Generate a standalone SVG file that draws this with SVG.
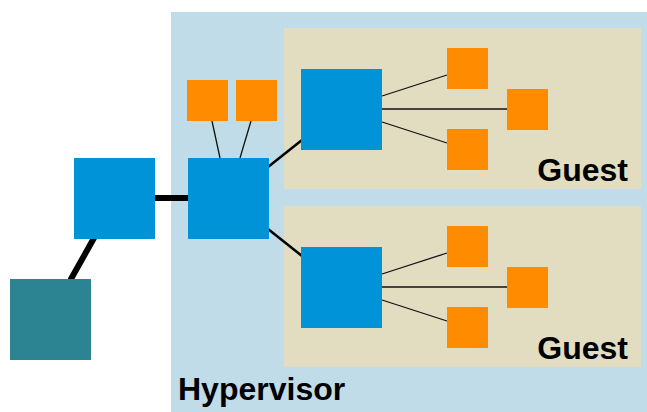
<svg xmlns="http://www.w3.org/2000/svg" width="647" height="412" viewBox="0 0 647 412">
<style>
.hv{fill:#c0dce8}
.guest{fill:#e2dcc0}
.blue{fill:#0093d8}
.orange{fill:#ff8c00}
.teal{fill:#2c8392}
.thin{stroke:#111;stroke-width:1.3;fill:none}
.mid{stroke:#000;stroke-width:2.5;fill:none}
.thick{stroke:#000;stroke-width:6;fill:none}
.lbl{font-family:"Liberation Sans",Arial,sans-serif;font-weight:bold;font-size:32px;fill:#000}
</style>
<rect fill="#fff" x="0" y="0" width="647" height="412"/>
<g id="hypervisor">
<rect class="hv" x="171" y="12" width="476" height="400"/>
<text class="lbl" x="178" y="400">Hypervisor</text>
</g>
<g id="guest1">
<rect class="guest" x="284" y="28" width="357" height="161"/>
<text class="lbl" x="628" y="181" text-anchor="end">Guest</text>
</g>
<g id="guest2">
<rect class="guest" x="284" y="206" width="357" height="161"/>
<text class="lbl" x="628" y="359" text-anchor="end">Guest</text>
</g>
<g id="connectors">
<line class="thick" x1="155" y1="198" x2="188" y2="198"/>
<line class="thick" x1="71" y1="279" x2="94" y2="238" stroke-linecap="round" stroke-width="5"/>
<line class="thin" x1="212" y1="121" x2="220" y2="158"/>
<line class="thin" x1="251" y1="121" x2="240" y2="158"/>
<line class="mid" x1="268" y1="167" x2="302" y2="140"/>
<line class="mid" x1="268" y1="229" x2="302" y2="256"/>
<line class="thin" x1="382" y1="96" x2="447" y2="75"/>
<line class="thin" x1="382" y1="109" x2="507" y2="109"/>
<line class="thin" x1="382" y1="122" x2="447" y2="143"/>
<line class="thin" x1="382" y1="274" x2="447" y2="253"/>
<line class="thin" x1="382" y1="287" x2="507" y2="287"/>
<line class="thin" x1="382" y1="300" x2="447" y2="321"/>
</g>
<g id="host-port"><rect class="teal" x="10" y="279" width="81" height="81"/></g>
<g id="switch"><rect class="blue" x="74" y="158" width="81" height="81"/></g>
<g id="hv-switch"><rect class="blue" x="188" y="158" width="81" height="81"/></g>
<g id="hv-port1"><rect class="orange" x="187" y="80" width="41" height="41"/></g>
<g id="hv-port2"><rect class="orange" x="236" y="80" width="41" height="41"/></g>
<g id="g1-switch"><rect class="blue" x="301" y="69" width="81" height="81"/></g>
<g id="g1-port1"><rect class="orange" x="447" y="48" width="41" height="41"/></g>
<g id="g1-port2"><rect class="orange" x="507" y="89" width="41" height="41"/></g>
<g id="g1-port3"><rect class="orange" x="447" y="129" width="41" height="41"/></g>
<g id="g2-switch"><rect class="blue" x="301" y="247" width="81" height="81"/></g>
<g id="g2-port1"><rect class="orange" x="447" y="226" width="41" height="41"/></g>
<g id="g2-port2"><rect class="orange" x="507" y="267" width="41" height="41"/></g>
<g id="g2-port3"><rect class="orange" x="447" y="307" width="41" height="41"/></g>
</svg>
